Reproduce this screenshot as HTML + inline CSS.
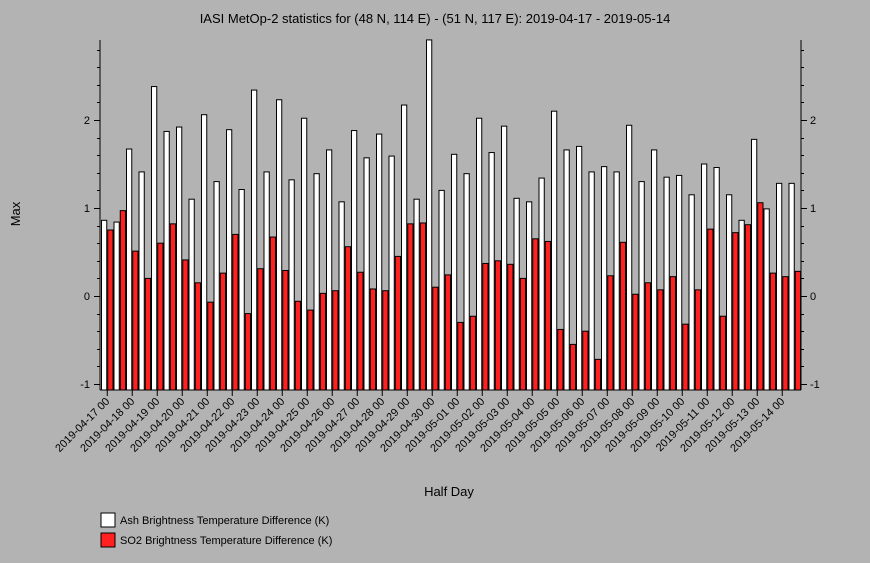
<!DOCTYPE html>
<html><head><meta charset="utf-8"><style>
body{margin:0;background:#b3b3b3;}
svg{display:block;font-family:"Liberation Sans",sans-serif;}
</style></head><body>
<svg id="c" width="870" height="563" xmlns="http://www.w3.org/2000/svg">
<rect width="870" height="563" fill="#b3b3b3"/>
<text x="435" y="23" text-anchor="middle" font-size="13">IASI MetOp-2 statistics for (48 N, 114 E) - (51 N, 117 E): 2019-04-17 - 2019-05-14</text>
<text x="20" y="214" text-anchor="middle" font-size="13" transform="rotate(-90 20 214)">Max</text>
<text x="449" y="496" text-anchor="middle" font-size="13">Half Day</text>
<g id="bars"></g>
<g id="axes"></g>
<rect x="101" y="513" width="14" height="14" fill="#fff" stroke="#000"/>
<text x="120" y="524" font-size="11">Ash Brightness Temperature Difference (K)</text>
<rect x="101" y="533" width="14" height="14" fill="#ff2020" stroke="#000"/>
<text x="120" y="544" font-size="11">SO2 Brightness Temperature Difference (K)</text>
</svg>
<script>
const ashValues=[0.86,0.84,1.67,1.41,2.38,1.87,1.92,1.10,2.06,1.30,1.89,1.21,2.34,1.41,2.23,1.32,2.02,1.39,1.66,1.07,1.88,1.57,1.84,1.59,2.17,1.10,2.91,1.20,1.61,1.39,2.02,1.63,1.93,1.11,1.07,1.34,2.10,1.66,1.70,1.41,1.47,1.41,1.94,1.30,1.66,1.35,1.37,1.15,1.50,1.46,1.15,0.86,1.78,0.99,1.28,1.28];
const so2Values=[0.75,0.97,0.51,0.20,0.60,0.82,0.41,0.15,-0.07,0.26,0.70,-0.20,0.31,0.67,0.29,-0.06,-0.16,0.03,0.06,0.56,0.27,0.08,0.06,0.45,0.82,0.83,0.10,0.24,-0.30,-0.23,0.37,0.40,0.36,0.20,0.65,0.62,-0.38,-0.55,-0.40,-0.72,0.23,0.61,0.02,0.15,0.07,0.22,-0.32,0.07,0.76,-0.23,0.72,0.81,1.06,0.26,0.22,0.28];
const dayLabels=["2019-04-17 00","2019-04-18 00","2019-04-19 00","2019-04-20 00","2019-04-21 00","2019-04-22 00","2019-04-23 00","2019-04-24 00","2019-04-25 00","2019-04-26 00","2019-04-27 00","2019-04-28 00","2019-04-29 00","2019-04-30 00","2019-05-01 00","2019-05-02 00","2019-05-03 00","2019-05-04 00","2019-05-05 00","2019-05-06 00","2019-05-07 00","2019-05-08 00","2019-05-09 00","2019-05-10 00","2019-05-11 00","2019-05-12 00","2019-05-13 00","2019-05-14 00"];
const yTicks=[-1,0,1,2];
const NS="http://www.w3.org/2000/svg";
const X0=101,X1=801,YB=390,YT=40;
const n=ashValues.length, gw=(X1-X0)/n;
const y=v=>296-88*v;
const xg=i=>X0+gw*i;
function mk(t,a,p){const e=document.createElementNS(NS,t);for(const k in a)e.setAttribute(k,a[k]);p.appendChild(e);return e;}
const bars=document.getElementById('bars'),axes=document.getElementById('axes');
for(let i=0;i<n;i++){
  const bw=gw/2;
  const a=mk('rect',{x:xg(i)+0.5,y:y(ashValues[i]),width:bw-1,height:YB-y(ashValues[i]),fill:'#fff',stroke:'#000','stroke-width':1},bars);
  
  
  const r=mk('rect',{x:xg(i)+bw+0.5,y:y(so2Values[i]),width:bw-1,height:YB-y(so2Values[i]),fill:'#ff2020',stroke:'#000','stroke-width':1},bars);
  
  
}
const la=mk('line',{x1:100,y1:YT,x2:100,y2:YB,stroke:'#000'},axes);


const ra=mk('line',{x1:801,y1:YT,x2:801,y2:YB,stroke:'#000'},axes);


const ba=mk('line',{x1:100,y1:YB,x2:801,y2:YB,stroke:'#000'},axes);


for(let v=-1;v<=2.9;v+=0.2){
  const yy=Math.round(y(v))+0.5;
  const maj=Math.abs(v-Math.round(v))<0.01;
  const len=maj?6:3;
  mk('line',{x1:100-len,y1:yy,x2:100,y2:yy,stroke:'#000'},axes);
  mk('line',{x1:801,y1:yy,x2:801+len,y2:yy,stroke:'#000'},axes);
}
yTicks.forEach(v=>{
  const t=mk('text',{x:90,y:y(v)+4,'text-anchor':'end','font-size':11},axes);t.textContent=v;
  
  
  const t2=mk('text',{x:810,y:y(v)+4,'font-size':11},axes);t2.textContent=v;
  
  
});
dayLabels.forEach((l,k)=>{
  const xx=xg(2*k)+gw/2;
  mk('line',{x1:xx,y1:YB,x2:xx,y2:YB+6,stroke:'#000'},axes);
  const t=mk('text',{x:xx+3,y:YB+12,'text-anchor':'end','font-size':11,transform:`rotate(-45 ${xx+3} ${YB+12})`},axes);
  t.textContent=l;
  
  
});
</script>
</body></html>
